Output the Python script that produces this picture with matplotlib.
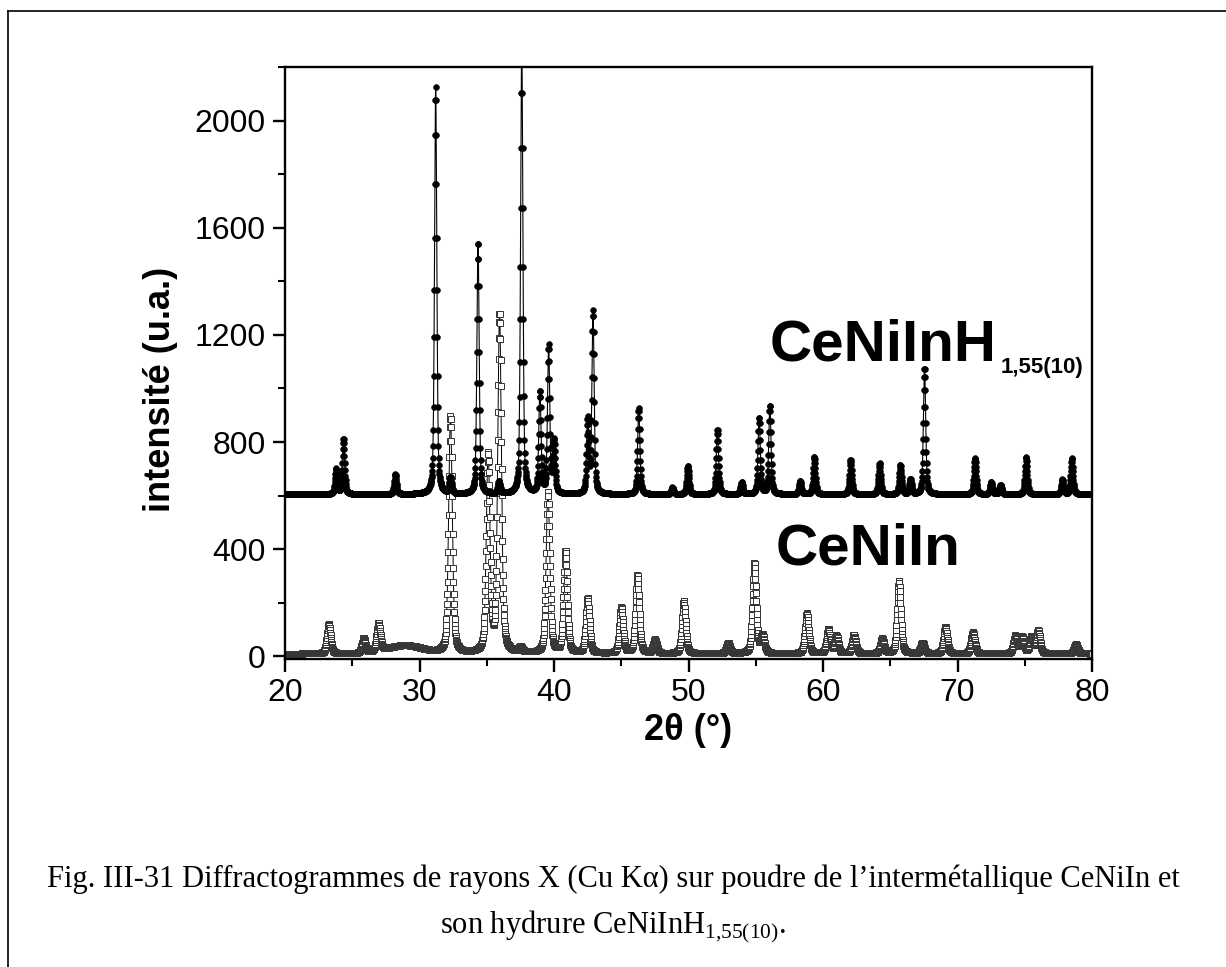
import numpy as np
import matplotlib
matplotlib.use("Agg")
import matplotlib.pyplot as plt
from matplotlib.lines import Line2D
from matplotlib.ticker import MultipleLocator

# ── Peak lists (2theta in deg, intensity in a.u.) ──
hyd_pos = [23.8, 24.35, 28.2, 31.2, 32.3, 34.35, 35.9, 37.6, 38.95, 39.6,
           40.0, 42.5, 42.9, 46.3, 48.8, 49.95, 52.15, 53.95, 55.25, 56.05,
           58.3, 59.35, 62.05, 64.2, 65.75, 66.5, 67.55, 71.3, 72.5, 73.2,
           75.1, 77.8, 78.5]
hyd_int = [700, 810, 680, 2125, 665, 1545, 650, 2300, 985, 1155,
           800, 880, 1285, 925, 630, 710, 845, 650, 890, 935,
           655, 745, 735, 720, 715, 660, 1075, 740, 650, 640,
           745, 660, 740]
hyd_base = 605

alloy_pos = [23.25, 25.85, 26.95, 32.3, 35.1, 35.95, 37.5, 39.55, 40.85,
             42.5, 45.0, 46.2, 47.5, 49.65, 52.95, 54.9, 55.5, 58.8, 60.4,
             61.0, 62.3, 64.4, 65.65, 67.4, 69.1, 71.15, 74.3, 74.8, 75.5,
             76.0, 78.8]
alloy_int = [120, 65, 115, 895, 745, 1270, 30, 610, 390,
             215, 180, 300, 60, 205, 50, 345, 75, 160, 100,
             75, 80, 65, 280, 50, 110, 90, 75, 70, 70,
             95, 45]
alloy_base = 10
# broad amorphous hump under the CeNiIn pattern
alloy_hump_pos = [28.9]
alloy_hump_int = [30]

two_theta = np.arange(20.0, 80.0001, 0.02)


def profile(x, pos, inten, base, fwhm, eta=0.4):
    y = np.full_like(x, float(base))
    for p, h in zip(pos, inten):
        a = h - base
        d = (x - p) / (fwhm / 2)
        y += a * (eta / (1 + d**2) + (1 - eta) * np.exp(-np.log(2) * d**2))
    return y


hyd = profile(two_theta, hyd_pos, hyd_int, hyd_base, 0.20)
alloy = profile(two_theta, alloy_pos, alloy_int, alloy_base, 0.32)
alloy += profile(two_theta, alloy_hump_pos, np.array(alloy_hump_int) + alloy_base,
                 alloy_base, 3.0, eta=0.0) - alloy_base

plt.rcParams.update({
    "font.family": ["Liberation Sans", "DejaVu Sans"],
    "font.size": 23,
    "axes.linewidth": 1.7,
    "xtick.major.width": 1.7,
    "ytick.major.width": 1.7,
    "xtick.minor.width": 1.5,
    "ytick.minor.width": 1.5,
    "xtick.major.size": 9,
    "ytick.major.size": 9,
    "xtick.minor.size": 5,
    "ytick.minor.size": 5,
})

fig = plt.figure(figsize=(12.26, 9.67), dpi=100)
ax = fig.add_axes([0.2325, 0.3185, 0.6582, 0.6122])

ax.plot(two_theta, alloy, color="black", lw=0.7, marker="s", ms=4.0,
        mfc="white", mec="#333333", mew=0.7, zorder=2)
ax.plot(two_theta, hyd, color="black", lw=0.8, marker="o", ms=4.2,
        mfc="black", mec="black", mew=0.4, zorder=3)

ax.set_xlim(20, 80)
ax.set_ylim(-10, 2200)
ax.xaxis.set_major_locator(MultipleLocator(10))
ax.xaxis.set_minor_locator(MultipleLocator(5))
ax.yaxis.set_major_locator(MultipleLocator(400))
ax.yaxis.set_minor_locator(MultipleLocator(200))
ax.tick_params(which="both", direction="out", top=False, right=False,
               labelsize=23, pad=5)

ax.set_xlabel("2θ (°)", fontsize=26, fontweight="bold")
ax.set_ylabel("intensité (u.a.)", fontsize=26, fontweight="bold")
ax.xaxis.set_label_coords(0.5, -0.092)
ax.yaxis.set_label_coords(-0.1326, 0.456)

ax.text(0.601, 0.505, "CeNiInH", transform=ax.transAxes, fontsize=42,
        fontweight="bold", ha="left", va="baseline")
ax.text(0.887, 0.483, "1,55(10)", transform=ax.transAxes, fontsize=16,
        fontweight="bold", ha="left", va="baseline")
ax.text(0.608, 0.159, "CeNiIn", transform=ax.transAxes, fontsize=42,
        fontweight="bold", ha="left", va="baseline")

# caption below the plot
cap_font = ["Liberation Serif", "DejaVu Serif"]
fig.text(0.5, 1 - 887 / 967,
         "Fig. III-31 Diffractogrammes de rayons X (Cu Kα) sur poudre de "
         "l’intermétallique CeNiIn et",
         ha="center", va="baseline", fontsize=22, family=cap_font)
fig.text(0.5, 1 - 933 / 967, r"son hydrure CeNiInH$_\mathregular{1{,}55(10)}$.",
         ha="center", va="baseline", fontsize=22, family=cap_font)

# page frame (top and left edges)
fig.add_artist(Line2D([8 / 1226, 1], [1 - 11 / 967, 1 - 11 / 967],
                      transform=fig.transFigure, color="black", lw=1.2))
fig.add_artist(Line2D([8 / 1226, 8 / 1226], [0, 1 - 11 / 967],
                      transform=fig.transFigure, color="black", lw=1.2))

fig.savefig("out.png", dpi=100, facecolor="white")
